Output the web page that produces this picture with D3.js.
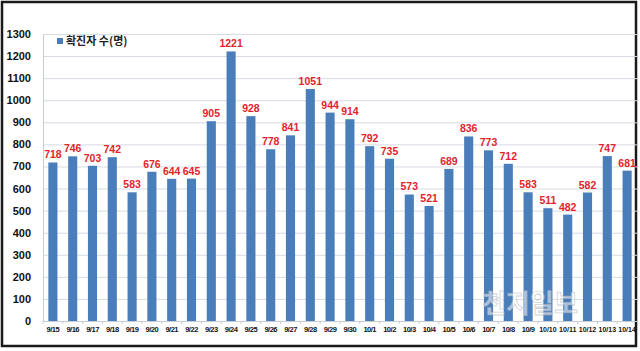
<!DOCTYPE html>
<html>
<head>
<meta charset="utf-8">
<script src="https://cdn.jsdelivr.net/npm/d3@7"></script>
<style>
  html, body { margin: 0; padding: 0; background: #fff; }
  svg { display: block; }
</style>
</head>
<body>
<div id="chart"></div>
<script>
// data
const dates = ["9/15","9/16","9/17","9/18","9/19","9/20","9/21","9/22","9/23","9/24",
  "9/25","9/26","9/27","9/28","9/29","9/30","10/1","10/2","10/3","10/4",
  "10/5","10/6","10/7","10/8","10/9","10/10","10/11","10/12","10/13","10/14"];
const cases = [718,746,703,742,583,676,644,645,905,1221,
  928,778,841,1051,944,914,792,735,573,521,
  689,836,773,712,583,511,482,582,747,681];
const yTicks = d3.range(0, 1301, 100);
const seriesName = "확진자 수(명)";

const W = 640, H = 351;
const margin = { top: 34, right: 3, bottom: 30, left: 43 };
const width  = W - margin.left - margin.right;
const height = H - margin.top - margin.bottom;

const svg = d3.select("#chart").append("svg")
  .attr("width", W)
  .attr("height", H)
  .style("font-family", "'Noto Sans CJK KR', 'DejaVu Sans', sans-serif");

// outer frame
svg.append("rect")
  .attr("x", 2).attr("y", 2)
  .attr("width", 634).attr("height", 344)
  .attr("fill", "#fff")
  .attr("stroke", "#1a1a1a")
  .attr("stroke-width", 2.5);

const g = svg.append("g")
  .attr("transform", `translate(${margin.left},${margin.top})`);

const x = d3.scaleBand().domain(dates).range([0, width]).paddingInner(0.54).paddingOuter(0.27);
const y = d3.scaleLinear().domain([0, 1300]).range([height, 0]);

// gridlines
g.append("g")
  .call(d3.axisLeft(y).tickValues(yTicks).tickSize(-width).tickFormat(""))
  .call(a => a.select(".domain").remove())
  .selectAll("line")
    .attr("stroke", "#d6dbe4")
    .attr("stroke-width", 1);

// y axis labels
g.append("g")
  .call(d3.axisLeft(y).tickValues(yTicks).tickSize(0).tickPadding(12).tickFormat(d3.format("d")))
  .call(a => a.select(".domain").attr("stroke", "#c8ccd4"))
  .selectAll("text")
    .attr("font-size", 11)
    .attr("font-weight", "bold")
    .attr("font-family", "'Liberation Sans', Arial, sans-serif")
    .attr("fill", "#111");

// bars
g.selectAll("rect.bar")
  .data(cases)
  .join("rect")
    .attr("class", "bar")
    .attr("x", (d, i) => x(dates[i]))
    .attr("width", x.bandwidth())
    .attr("y", d => y(d))
    .attr("height", d => height - y(d))
    .attr("fill", "#4a7ebb");

// value labels
g.selectAll("text.val")
  .data(cases)
  .join("text")
    .attr("class", "val")
    .attr("x", (d, i) => x(dates[i]) + x.bandwidth() / 2)
    .attr("y", d => y(d) - 4)
    .attr("text-anchor", "middle")
    .attr("font-size", 10.5)
    .attr("font-weight", "bold")
    .attr("font-family", "'Liberation Sans', Arial, sans-serif")
    .attr("fill", "#e3242b")
    .text(d => d);

// x axis
const xAxis = g.append("g")
  .attr("transform", `translate(0,${height})`)
  .call(d3.axisBottom(x).tickSize(0).tickPadding(6));
xAxis.select(".domain").attr("stroke", "#c8ccd4");
xAxis.selectAll("text")
  .attr("font-weight", "bold")
  .attr("font-family", "'Liberation Sans Narrow', 'Liberation Sans', sans-serif")
  .attr("fill", "#111")
  .each(function(d) {
    if (d.length > 4) {
      d3.select(this).attr("font-size", 7)
        .attr("textLength", 17.5).attr("lengthAdjust", "spacingAndGlyphs");
    } else {
      d3.select(this).attr("font-size", 7.5).attr("letter-spacing", -0.5);
    }
  });
// small ticks between categories
xAxis.selectAll("line.sep")
  .data(dates)
  .join("line")
    .attr("class", "sep")
    .attr("x1", d => x(d) - x.step() * x.paddingInner() / 2)
    .attr("x2", d => x(d) - x.step() * x.paddingInner() / 2)
    .attr("y1", 0).attr("y2", 3)
    .attr("stroke", "#c8ccd4");

// legend
const legend = g.append("g").attr("transform", "translate(14,8)");
legend.append("rect")
  .attr("x", 0).attr("y", -4)
  .attr("width", 6).attr("height", 6)
  .attr("fill", "#4a7ebb");
legend.append("text")
  .attr("x", 9).attr("y", 3)
  .attr("font-size", 11)
  .attr("font-weight", "bold")
  .attr("fill", "#222")
  .text(seriesName);

// watermark (sits above the date labels)
svg.append("text")
  .attr("x", 530).attr("y", 313)
  .attr("text-anchor", "middle")
  .attr("font-size", 26)
  .attr("font-weight", "bold")
  .attr("fill", "#ffffff")
  .attr("fill-opacity", 0.55)
  .attr("stroke", "#9aa0a8")
  .attr("stroke-opacity", 0.5)
  .attr("stroke-width", 0.8)
  .text("천지일보");
</script>
</body>
</html>
